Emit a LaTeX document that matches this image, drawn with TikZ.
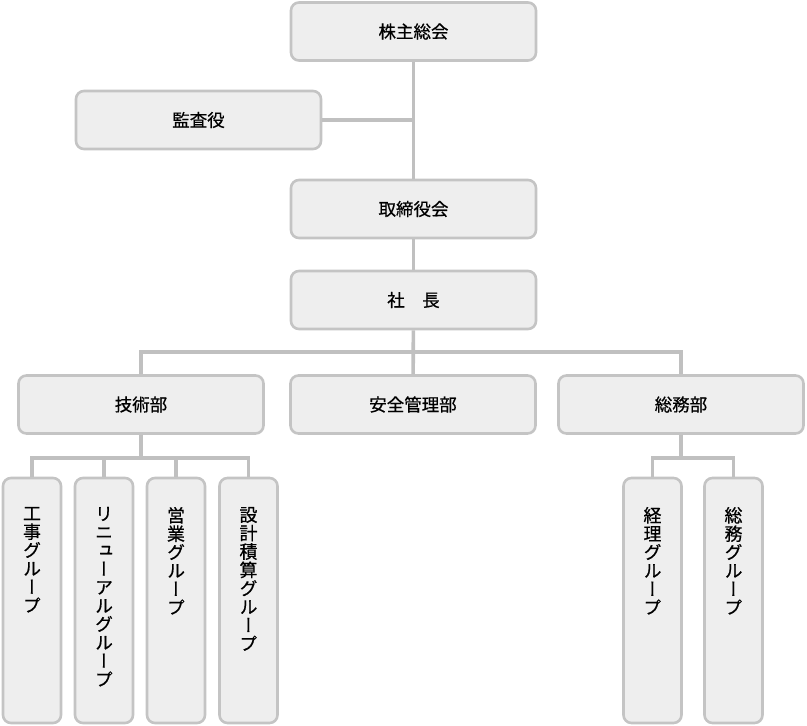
\documentclass[tikz,border=0pt]{standalone}
\usepackage{fontspec}
\usepackage{xcolor}
\usepackage{tikz}
\usetikzlibrary{positioning}

\newfontfamily\jpfont[BoldFont={Noto Sans CJK JP}, BoldFeatures={FakeBold=0.6}]{Noto Sans CJK JP}
\newfontfamily\jpvert[RawFeature=+vert, BoldFont={Noto Sans CJK JP}, BoldFeatures={FakeBold=0.6}]{Noto Sans CJK JP}
\definecolor{boxfill}{HTML}{EEEEEE}
\definecolor{boxline}{HTML}{C4C4C4}
\definecolor{linkline}{HTML}{C0C0C0}

% vertical (tategaki) label, top aligned in the box
\newcommand{\tate}[1]{\parbox[c][243pt][t]{24pt}{\centering\vspace*{28pt}\jpvert\bfseries\fontsize{18}{18.4}\selectfont #1}}

\begin{document}
\begin{tikzpicture}[x=1pt, y=-1pt,
                orgbox/.style={rectangle, rounded corners=8pt, draw=boxline, fill=boxfill, line width=2.6pt, minimum width=245pt, minimum height=58pt, font=\jpfont\bfseries\fontsize{17.5}{20}\selectfont},
                groupbox/.style={rectangle, rounded corners=8pt, draw=boxline, fill=boxfill, line width=2.6pt, minimum width=58pt, minimum height=245pt, inner sep=0pt},
                link/.style={draw=linkline, line width=3.6pt}
                ]
                \useasboundingbox (0,0) rectangle (807,726);
                \node[orgbox] (agm) at (413.5,31.5) {株主総会};
                \node[orgbox] (audit) at (198.5,120) {監査役};
                \node[orgbox] (board) at (413.5,209) {取締役会};
                \node[orgbox] (pres) at (413.5,300) {社　長};
                \node[orgbox] (tech) at (141,404.5) {技術部};
                \node[orgbox] (safety) at (413,404.5) {安全管理部};
                \node[orgbox] (somu) at (681,404.5) {総務部};
                \node[groupbox] (koji) at (32,600.5) {\tate{工\\事\\グ\\ル\\ー\\プ}};
                \node[groupbox] (renewal) at (104,600.5) {\tate{リ\\ニ\\ュ\\ー\\ア\\ル\\グ\\ル\\ー\\プ}};
                \node[groupbox] (eigyo) at (176,600.5) {\tate{営\\業\\グ\\ル\\ー\\プ}};
                \node[groupbox] (sekkei) at (248.5,600.5) {\tate{設\\計\\積\\算\\グ\\ル\\ー\\プ}};
                \node[groupbox] (keiri) at (652.5,600.5) {\tate{経\\理\\グ\\ル\\ー\\プ}};
                \node[groupbox] (somugr) at (733.5,600.5) {\tate{総\\務\\グ\\ル\\ー\\プ}};
                \draw[link] (agm) -- (board);
                \draw[link] (audit.east) -- (audit.east -| agm.south);
                \draw[link] (board) -- (pres);
                \draw[link] (pres) -- (safety);
                \draw[link] (tech.north) -- ++(0,-22) -| (somu.north);
                \draw[link] (tech.south) -- ++(0,23) coordinate (techbus);
                \draw[link] (koji.north) |- (techbus) -| (sekkei.north);
                \draw[link] (renewal.north) -- (renewal.north |- techbus);
                \draw[link] (eigyo.north) -- (eigyo.north |- techbus);
                \draw[link] (somu.south) -- ++(0,23) coordinate (somubus);
                \draw[link] (keiri.north) |- (somubus) -| (somugr.north);
            \end{tikzpicture}
\end{document}
